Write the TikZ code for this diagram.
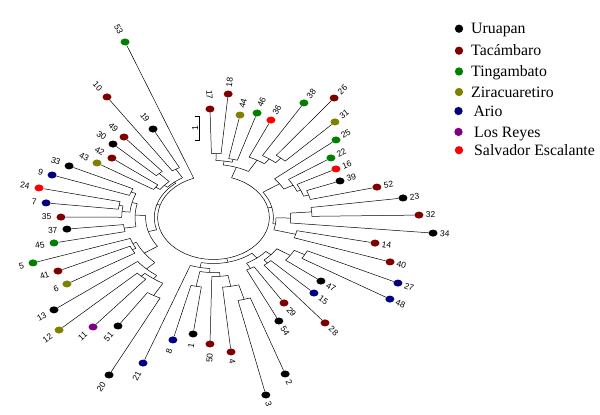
\documentclass[tikz,border=0pt]{standalone}
\usepackage{fontspec}
\setmainfont{Liberation Serif}
\setsansfont{Liberation Sans}
\usetikzlibrary{shapes.geometric}

\definecolor{uru}{RGB}{0,0,0}
\definecolor{tac}{RGB}{128,0,0}
\definecolor{tin}{RGB}{0,128,0}
\definecolor{zir}{RGB}{128,128,0}
\definecolor{ari}{RGB}{0,0,128}
\definecolor{los}{RGB}{128,0,128}
\definecolor{sal}{RGB}{255,0,0}

% leaf: id, angle, radius, colour
\newcommand\tipat[4]{%
  \expandafter\def\csname angt#1\endcsname{#2}%
  \node[tipdot,fill=#4] (t#1) at (#2:#3) {};
  \pgfmathsetmacro\scrang{atan2(sin(#2),1.33*cos(#2))}%
  \pgfmathtruncatemacro\isright{cos(#2)>0}%
  \ifnum\isright=1
    \path (t#1) ++(\scrang:6.8pt) node[tiplabel,anchor=west,rotate=\scrang] (lab#1) {#1};
  \else
    \pgfmathsetmacro\txtang{\scrang-180}%
    \path (t#1) ++(\scrang:9.3pt) node[tiplabel,anchor=east,rotate=\txtang] (lab#1) {#1};
  \fi
}
% clade: name, first child, second child, radius
\newcommand\clade[4]{%
  \edef\angA{\csname ang#2\endcsname}%
  \edef\angB{\csname ang#3\endcsname}%
  \pgfmathsetmacro\angM{(\angA+\angB)/2}%
  \expandafter\let\csname ang#1\endcsname\angM
  \coordinate (#1) at (\angM:#4);
  \pgfmathsetmacro\angLo{min(\angA,\angB)}%
  \pgfmathsetmacro\angHi{max(\angA,\angB)}%
  \draw[branch] plot[domain=\angLo:\angHi,samples=50] (\x:#4);
  \draw[branch] (\angA:#4) -- (#2);
  \draw[branch] (\angB:#4) -- (#3);
}
% extra child of a multifurcation
\newcommand\stem[2]{%
  \edef\angA{\csname ang#1\endcsname}%
  \draw[branch] (\angA:#2) -- (#1);
}

\begin{document}
\begin{tikzpicture}[x=1pt,y=1pt,
  branch/.style={line width=0.5pt},
  tipdot/.style={ellipse,minimum width=9pt,minimum height=7pt,inner sep=0pt},
  tiplabel/.style={font=\sffamily\fontsize{8.5}{9}\selectfont,inner sep=0pt},
  legdot/.style={circle,minimum size=8.3pt,inner sep=0pt},
  legtext/.style={anchor=base west,inner sep=0pt,font=\fontsize{15.8}{18}\selectfont}]
\useasboundingbox (-213.5,-197.5) rectangle (386.5,217.5);

\begin{scope}[x=1.33pt,y=1pt]
% tips
\tipat{17}{91.4}{108.5}{tac}
\tipat{18}{84.9}{124.0}{tac}
\tipat{44}{79.0}{104.4}{zir}
\tipat{46}{72.6}{109.5}{tin}
\tipat{36}{66.1}{106.6}{sal}
\tipat{38}{59.3}{133.2}{tin}
\tipat{26}{52.8}{150.0}{tac}
\tipat{31}{46.3}{132.2}{zir}
\tipat{25}{40.1}{120.4}{tin}
\tipat{22}{34.0}{106.5}{tin}
\tipat{16}{27.8}{104.1}{sal}
\tipat{39}{21.0}{101.9}{uru}
\tipat{52}{13.9}{126.6}{tac}
\tipat{23}{7.8}{143.8}{uru}
\tipat{32}{0.9}{154.5}{tac}
\tipat{34}{-5.4}{165.8}{uru}
\tipat{14}{-11.9}{124.1}{tac}
\tipat{40}{-18.5}{140.0}{tac}
\tipat{27}{-25.3}{153.4}{ari}
\tipat{48}{-31.6}{155.7}{ari}
\tipat{47}{-38.2}{102.8}{uru}
\tipat{15}{-45.0}{106.8}{ari}
\tipat{28}{-51.5}{134.7}{tac}
\tipat{29}{-58.2}{100.6}{tac}
\tipat{54}{-64.6}{114.6}{uru}
\tipat{2}{-71.0}{165.5}{uru}
\tipat{3}{-77.5}{181.8}{uru}
\tipat{4}{-84.4}{135.1}{tac}
\tipat{50}{-91.2}{126.5}{tac}
\tipat{1}{-97.5}{117.5}{uru}
\tipat{8}{-104.0}{126.2}{ari}
\tipat{21}{-110.0}{154.9}{ari}
\tipat{20}{-116.5}{176.0}{uru}
\tipat{51}{-123.5}{130.1}{uru}
\tipat{11}{-129.6}{142.1}{los}
\tipat{12}{-135.9}{161.7}{zir}
\tipat{13}{-142.4}{151.4}{uru}
\tipat{6}{-148.9}{128.7}{zir}
\tipat{41}{-155.4}{128.6}{tac}
\tipat{5}{-161.5}{143.1}{tin}
\tipat{45}{-168.0}{122.6}{tin}
\tipat{37}{-174.0}{110.8}{uru}
\tipat{35}{-180.2}{114.7}{tac}
\tipat{7}{-186.6}{126.7}{ari}
\tipat{24}{-192.7}{134.5}{sal}
\tipat{9}{-199.3}{128.6}{ari}
\tipat{33}{-205.4}{120.2}{uru}
\tipat{43}{-211.9}{103.2}{zir}
\tipat{42}{-217.9}{96.8}{tac}
\tipat{30}{-224.2}{105.4}{uru}
\tipat{49}{-230.1}{104.9}{tac}
\tipat{10}{-236.4}{144.7}{tac}
\tipat{19}{-242.8}{99.5}{uru}
\tipat{53}{-249.25}{187.7}{tin}

% clades
\clade{c1}{t17}{t18}{64}
\clade{c2}{t44}{t46}{60}
\clade{c3}{c1}{c2}{57}
\clade{c4}{t26}{t31}{78}
\clade{c5}{t38}{c4}{72}
\clade{c6}{t36}{c5}{66}
\clade{c7}{c3}{c6}{53}
\clade{c8}{t39}{t52}{75}
\clade{c9}{t16}{c8}{71}
\clade{c10}{t22}{c9}{68}
\clade{c11}{t25}{c10}{60}
\clade{c13}{t23}{t32}{74}
\clade{c14}{c13}{t34}{58}
\clade{c15}{t14}{t40}{64}
\clade{c16}{c14}{c15}{47}
\clade{c12}{c11}{c16}{45}
\clade{c17}{t27}{t48}{78}
\clade{c18}{t47}{c17}{69}
\clade{c19}{t15}{t28}{61}
\clade{c20}{c18}{c19}{57}
\clade{c21}{t29}{t54}{58}
\clade{c22}{c20}{c21}{52}
\clade{c23}{t2}{t3}{85}
\clade{c24}{t4}{c23}{70}
\clade{c25}{t50}{c24}{59}
\clade{c26}{t8}{t1}{70}
\clade{c27}{c25}{c26}{55}
\clade{c28}{c27}{t21}{51}
\clade{c48}{c22}{c28}{46}
\clade{c29}{t20}{t51}{90}
\clade{c30}{t11}{t12}{80}
\clade{c31}{c29}{c30}{76}
\clade{c32}{c31}{t13}{72}
\clade{c33}{t6}{t41}{69}
\clade{c34}{c33}{t5}{66}
\clade{c35}{c32}{c34}{63}
\clade{c36}{t45}{t37}{68}
\clade{c37}{t7}{t24}{72}
\clade{c38}{t35}{c37}{69}
\clade{c39}{t9}{t33}{67}
\clade{c40}{c38}{c39}{63}
\clade{c41}{c36}{c40}{59}
\clade{c42}{c35}{c41}{51}
\clade{c43}{t43}{t42}{53}
\clade{c44}{t30}{t49}{60}
\clade{c45}{c43}{c44}{49}
\clade{c46}{t10}{t19}{56}
\clade{c47}{c45}{c46}{46}
\clade{c49}{c42}{c47}{44.5}
% root
\clade{c50}{c7}{t53}{42}
\stem{c12}{42}
\stem{c48}{42}
\stem{c49}{42}
\end{scope}

% scale bar
\draw[branch] (-18.8,101.5) -- (-14.5,101.5) -- (-14.5,77.5) -- (-18.8,77.5);
\node[tiplabel,rotate=90] (barlab) at (-18.2,89.6) {1};

% legend
\node[legdot,fill=uru] (kuru) at (245.5,188.8) {};
\node[legtext] (luru) at (257.5,183.5) {Uruapan};
\node[legdot,fill=tac] (ktac) at (245.5,166.8) {};
\node[legtext] (ltac) at (257.5,161.5) {Tacámbaro};
\node[legdot,fill=tin] (ktin) at (245.5,146.0) {};
\node[legtext] (ltin) at (257.5,140.7) {Tingambato};
\node[legdot,fill=zir] (kzir) at (245.5,125.5) {};
\node[legtext] (lzir) at (257.5,120.2) {Ziracuaretiro};
\node[legdot,fill=ari] (kari) at (245.0,106.5) {};
\node[legtext] (lari) at (259.8,101.2) {Ario};
\node[legdot,fill=los] (klos) at (245.0,85.6) {};
\node[legtext] (llos) at (260.5,80.3) {Los Reyes};
\node[legdot,fill=sal] (ksal) at (245.5,67.3) {};
\node[legtext] (lsal) at (260.5,62.0) {Salvador Escalante};
\end{tikzpicture}
\end{document}
